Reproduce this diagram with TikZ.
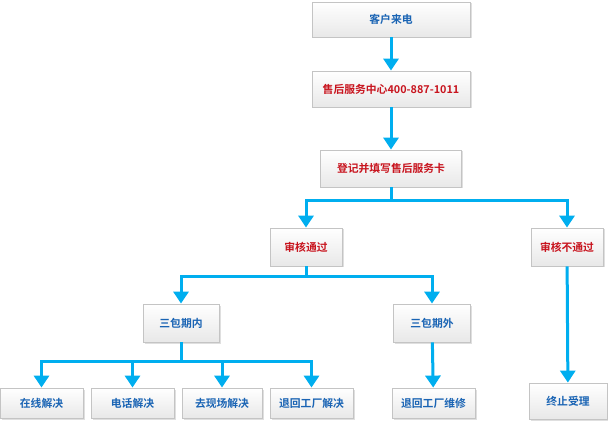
\documentclass[tikz,border=0pt]{standalone}
\usepackage{fontspec}
\newfontfamily\cjk{Noto Sans CJK SC}[BoldFont={Noto Sans CJK SC Bold}]
\usetikzlibrary{arrows.meta,shadows}
\definecolor{flowblue}{HTML}{00AEEF}
\definecolor{txtblue}{HTML}{1A64B4}
\definecolor{txtred}{HTML}{C8141E}
\definecolor{boxline}{HTML}{C4C4C4}
\tikzset{
  box/.style={draw=boxline, line width=0.8pt, top color=white, bottom color=gray!18,
    drop shadow={opacity=0.25, shadow xshift=1.5pt, shadow yshift=-1.5pt},
    font=\cjk\bfseries\fontsize{10.8}{12}\selectfont, text=txtblue, inner sep=2pt},
  redbox/.style={box, text=txtred},
  flow/.style={draw=flowblue, line width=3pt, -{Triangle[width=15pt,length=12pt]}},
}
\begin{document}
\begin{tikzpicture}[x=1pt,y=-1pt]
  \useasboundingbox (0,0) rectangle (608,422);
  % upper part
  \draw (391,19.5) node[box, minimum width=158, minimum height=35] (call) {客户来电};
  \draw (391,89) node[redbox, minimum width=158, minimum height=36] (center) {售后服务中心400-887-1011};
  \draw (391,168.5) node[redbox, minimum width=141, minimum height=37] (card) {登记并填写售后服务卡};
  \draw (306,247) node[redbox, minimum width=72, minimum height=38] (pass) {审核通过};
  \draw (567,247) node[redbox, minimum width=72, minimum height=38] (fail) {审核不通过};
  % middle part
  \draw (181,323) node[box, minimum width=76, minimum height=38] (inside) {三包期内};
  \draw (432,323) node[box, minimum width=77, minimum height=38] (outside) {三包期外};
  % lower part
  \draw (41.5,403) node[box, minimum width=83, minimum height=30] (online) {在线解决};
  \draw (132.5,403) node[box, minimum width=83, minimum height=30] (phone) {电话解决};
  \draw (222,403) node[box, minimum width=80, minimum height=30] (site) {去现场解决};
  \draw (311.5,403) node[box, minimum width=83, minimum height=30] (back) {退回工厂解决};
  \draw (433.5,403) node[box, minimum width=83, minimum height=30] (repair) {退回工厂维修};
  \draw (568,401) node[box, minimum width=78, minimum height=36] (stop) {终止受理};
  \coordinate (s1) at (391,201);
  \coordinate (s2) at (306,277);
  \coordinate (s3) at (181,361);
  \draw[flow] (call) -- (center);
  \draw[flow] (center) -- (card);
  \draw[flow] (card.south) -- (s1) -| (pass.north);
  \draw[flow] (card.south) -- (s1) -| (fail.north);
  \draw[flow] (pass.south) -- (s2) -| (inside.north);
  \draw[flow] (pass.south) -- (s2) -| (outside.north);
  \draw[flow] (inside.south) -- (s3) -| (online.north);
  \draw[flow] (inside.south) -- (s3) -| (phone.north);
  \draw[flow] (inside.south) -- (s3) -| (site.north);
  \draw[flow] (inside.south) -- (s3) -| (back.north);
  \draw[flow] (outside) -- (repair);
  \draw[flow] (fail) -- (stop);
\end{tikzpicture}
\end{document}
